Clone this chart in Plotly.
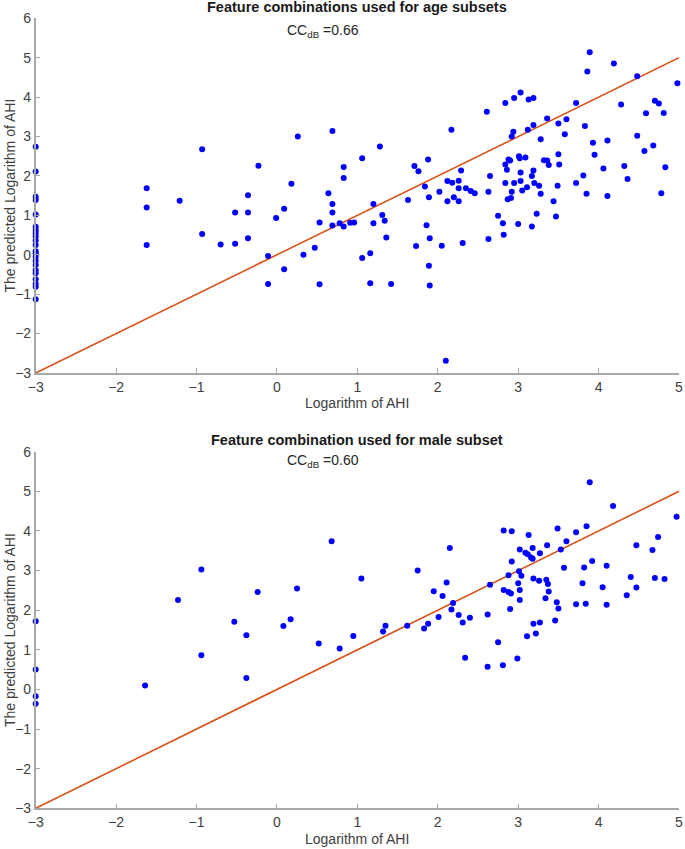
import plotly.graph_objects as go

# ---------------- data: top panel (age subsets) ----------------
top_x = [-3]*22 + [
    -1.62, -1.62, -1.62, -1.21, -0.93, -0.93, -0.70, -0.52, -0.52, -0.36, -0.36, -0.36,
    -0.23, -0.11, -0.11, -0.01, 0.09, 0.09, 0.18, 0.26, 0.33, 0.47, 0.53, 0.53, 0.64,
    0.69, 0.69, 0.69, 0.69, 0.78, 0.83, 0.83, 0.83, 0.91, 0.96, 1.06, 1.06, 1.16, 1.16,
    1.20, 1.20, 1.28, 1.31, 1.34, 1.36, 1.42, 1.63, 1.71, 1.73, 1.76, 1.84, 1.86, 1.88,
    1.89, 1.89, 1.90, 1.90, 2.02, 2.05, 2.10, 2.12, 2.12, 2.17, 2.18, 2.20, 2.26, 2.26,
    2.26, 2.29, 2.31, 2.35, 2.41, 2.46, 2.61, 2.63, 2.63, 2.65, 2.75,
    2.81, 2.82, 2.84, 2.84, 2.84, 2.86, 2.87, 2.88, 2.90, 2.91, 2.92, 2.92, 2.94, 2.95,
    2.95, 3.00, 3.01, 3.02, 3.03, 3.03, 3.03, 3.05, 3.09, 3.11, 3.12, 3.13, 3.17, 3.17,
    3.19, 3.19, 3.19, 3.20, 3.23, 3.26, 3.28, 3.28, 3.32, 3.36, 3.36, 3.38, 3.44, 3.47,
    3.49, 3.50, 3.50, 3.51, 3.58, 3.60, 3.72, 3.72, 3.81, 3.83, 3.85, 3.86, 3.89, 3.93,
    3.95, 4.06, 4.11, 4.11, 4.19, 4.28, 4.32, 4.36, 4.48, 4.48, 4.57, 4.59, 4.68, 4.70,
    4.75, 4.78, 4.81, 4.83, 4.98]
top_y = [2.74, 2.11, 1.47, 1.39, 1.02, 0.71, 0.63, 0.55, 0.47, 0.36, 0.25, 0.09, 0.03,
         -0.05, -0.15, -0.26, -0.39, -0.47, -0.62, -0.74, -0.81, -1.13] + [
    1.69, 1.20, 0.25, 1.37, 2.68, 0.53, 0.26, 1.07, 0.28, 1.51, 1.07, 0.42,
    2.26, -0.03, -0.74, 0.93, 1.17, -0.37, 1.80, 3.00, 0.00, 0.18, 0.82, -0.75, 1.56,
    3.14, 1.29, 1.07, 0.74, 0.80, 2.23, 1.95, 0.72, 0.81, 0.82, 2.45, -0.08, 0.04, -0.72,
    1.29, 0.80, 2.75, 1.01, 0.86, 0.44, -0.74, 1.39, 2.25, 0.22, 2.12, 1.73, 0.75, 2.42,
    1.46, -0.28, 0.42, -0.78, 1.60, 0.23, -2.69, 1.87, 1.36, 3.17, 1.83, 1.46, 1.36, 1.88,
    1.69, 2.14, 0.30, 1.69, 1.62, 1.56, 3.63, 1.60, 0.40, 2.00, 0.99,
    0.80, 0.51, 3.85, 2.29, 1.82, 2.16, 1.41, 2.42, 2.39, 1.44, 1.60, 3.00, 3.12, 3.98,
    1.82, 0.78, 2.50, 2.45, 2.09, 1.87, 4.12, 1.63, 2.47, 1.71, 3.17, 3.94, 2.00, 0.72,
    3.29, 3.98, 2.14, 1.82, 1.04, 1.75, 2.93, 1.55, 2.40, 2.39, 3.46, 2.28, 1.36, 0.97,
    1.75, 3.33, 2.55, 2.29, 3.06, 3.44, 3.85, 1.82, 2.01, 3.27, 1.55, 4.65, 5.14, 2.84,
    2.54, 2.19, 2.90, 1.49, 4.85, 3.81, 2.25, 1.92, 4.53, 3.02, 2.63, 3.59, 2.77, 3.91,
    3.84, 1.56, 3.60, 2.22, 4.35]

# ---------------- data: bottom panel (male subset) ----------------
bot_x = [-3, -3, -3, -3,
    -1.64, -1.23, -0.94, -0.94, -0.53, -0.38, -0.38,
    -0.24, 0.08, 0.17, 0.25, 0.52, 0.68, 0.78, 0.95, 1.05, 1.32, 1.35, 1.62, 1.75, 1.83,
    1.88, 1.95, 2.01, 2.06, 2.11, 2.15, 2.17, 2.19, 2.26, 2.31, 2.34, 2.40, 2.62, 2.62,
    2.65, 2.75,
    2.81, 2.82, 2.82, 2.88, 2.88, 2.90, 2.91, 2.92, 2.92, 2.99, 3.00, 3.01, 3.02, 3.02,
    3.02, 3.04, 3.09, 3.11, 3.12, 3.13, 3.16, 3.18, 3.18, 3.19, 3.19, 3.22, 3.26, 3.27,
    3.27, 3.34, 3.35, 3.36, 3.37, 3.38, 3.46, 3.48, 3.49, 3.50, 3.53, 3.57, 3.60, 3.72,
    3.72, 3.80, 3.82, 3.84, 3.85, 3.89, 3.92, 4.05, 4.10, 4.10, 4.18, 4.35, 4.40, 4.47,
    4.47, 4.67, 4.70, 4.74, 4.82, 4.97]
bot_y = [1.72, 0.50, -0.17, -0.36,
    0.10, 2.26, 3.03, 0.86, 1.71, 1.37, 0.29,
    2.46, 1.60, 1.77, 2.55, 1.16, 3.74, 1.03, 1.35, 2.80, 1.46, 1.61, 1.61, 3.00, 1.54,
    1.66, 2.48, 1.83, 2.36, 2.70, 3.57, 2.02, 2.18, 1.88, 1.69, 0.80, 1.81, 1.89, 0.57,
    2.64, 1.19,
    0.61, 4.01, 2.51, 2.88, 2.46, 2.03, 2.42, 3.23, 3.99, 0.78, 2.68, 2.98, 2.51, 2.26,
    3.53, 2.87, 3.45, 1.34, 3.41, 3.90, 3.33, 3.57, 3.30, 2.80, 1.66, 1.41, 2.74, 3.44,
    1.69, 2.30, 2.77, 3.64, 2.66, 2.47, 1.74, 2.20, 4.06, 2.04, 3.53, 3.07, 3.74, 3.97,
    2.15, 2.68, 3.08, 2.16, 4.12, 5.23, 3.24, 2.58, 3.12, 2.14, 4.63, 2.38, 2.84, 2.57,
    3.64, 3.52, 2.81, 3.85, 2.79, 4.36]

line_x = [-3, 5]
line_y = [-3, 5]

x_ticks = [-3, -2, -1, 0, 1, 2, 3, 4, 5]
y_ticks = [-3, -2, -1, 0, 1, 2, 3, 4, 5, 6]

titles = ["Feature combinations used for age subsets",
          "Feature combination used for male subset"]
cc_texts = ["CC<sub>dB</sub> =0.66", "CC<sub>dB</sub> =0.60"]
x_title = "Logarithm of AHI"
y_title = "The predicted Logarithm of AHI"

W, H = 685, 849
BLUE = "#0000ff"
ORANGE = "#d95319"
AXC = "#a8a8a8"
TXT = "#404040"
FONT = "Liberation Sans, Arial, sans-serif"

fig = go.Figure()

for i, (xs, ys) in enumerate([(top_x, top_y), (bot_x, bot_y)]):
    xa = "x" if i == 0 else "x2"
    ya = "y" if i == 0 else "y2"
    fig.add_trace(go.Scatter(x=line_x, y=line_y, mode="lines",
                             line=dict(color=ORANGE, width=1.6),
                             xaxis=xa, yaxis=ya, showlegend=False, hoverinfo="skip"))
    fig.add_trace(go.Scatter(x=xs, y=ys, mode="markers",
                             marker=dict(color=BLUE, size=6, line=dict(width=0)),
                             xaxis=xa, yaxis=ya, showlegend=False, cliponaxis=False))

xdom = [35.7 / W, 679 / W]
ydom_top = [1 - 373 / H, 1 - 18.3 / H]
ydom_bot = [1 - 808.3 / H, 1 - 451.7 / H]

axis_common = dict(showline=True, linecolor=AXC, linewidth=1.5, ticks="inside",
                   ticklen=5, tickcolor=AXC, tickwidth=1.2, showgrid=False,
                   zeroline=False, mirror=False, automargin=False,
                   ticklabeloverflow="allow",
                   tickfont=dict(family=FONT, size=14, color=TXT))

fig.update_layout(
    width=W, height=H, margin=dict(l=0, r=0, t=0, b=0),
    paper_bgcolor="white", plot_bgcolor="white",
    xaxis=dict(domain=xdom, range=[-3, 5], tickvals=x_ticks, anchor="y", **axis_common),
    yaxis=dict(domain=ydom_top, range=[-3, 6], tickvals=y_ticks, anchor="x", **axis_common),
    xaxis2=dict(domain=xdom, range=[-3, 5], tickvals=x_ticks, anchor="y2", **axis_common),
    yaxis2=dict(domain=ydom_bot, range=[-3, 6], tickvals=y_ticks, anchor="x2", **axis_common),
)

cx = 357 / W
ann = []
for title_py, cc_py, xl_py, yl_py, t, cc in [
        (7, 31, 403, 195.5, titles[0], cc_texts[0]),
        (440, 461, 839, 630, titles[1], cc_texts[1])]:
    ann.append(dict(text="<b>" + t + "</b>", x=cx, y=1 - title_py / H, xref="paper", yref="paper",
                    showarrow=False, xanchor="center", yanchor="middle",
                    font=dict(family=FONT, size=14.5, color="#1a1a1a")))
    ann.append(dict(text=cc, x=323 / W, y=1 - cc_py / H, xref="paper", yref="paper",
                    showarrow=False, xanchor="center", yanchor="middle",
                    font=dict(family=FONT, size=14, color="#262626")))
    ann.append(dict(text=x_title, x=cx, y=1 - xl_py / H, xref="paper", yref="paper",
                    showarrow=False, xanchor="center", yanchor="middle",
                    font=dict(family=FONT, size=14, color=TXT)))
    ann.append(dict(text=y_title, x=10 / W, y=1 - yl_py / H, xref="paper", yref="paper",
                    showarrow=False, xanchor="center", yanchor="middle", textangle=-90,
                    font=dict(family=FONT, size=14, color=TXT)))
fig.update_layout(annotations=ann)

fig.write_html("out.html", config={"displayModeBar": False},
               post_script="document.body.style.margin='0';document.body.style.padding='0';")
